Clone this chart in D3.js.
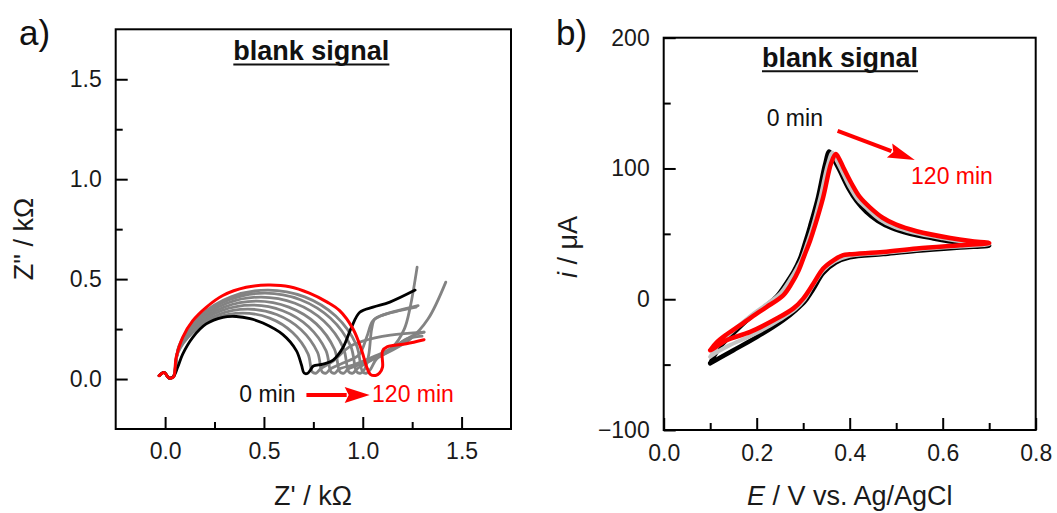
<!DOCTYPE html>
<html>
<head>
<meta charset="utf-8">
<script src="https://cdn.jsdelivr.net/npm/d3@7"></script>
<style>
  html, body { margin: 0; padding: 0; background: #fff; }
  svg { display: block; }
  text { font-family: "Liberation Sans", Arial, sans-serif; }
</style>
</head>
<body>
<script>
// ---------- Panel a: Nyquist plots (Z' vs Z'') ----------
const zTicksMajor = [0, 0.5, 1.0, 1.5];
const zTicksMinor = [0.25, 0.75, 1.25];

// 0 min (black)
const nyq0min = [
  [-0.03,0.017],[-0.005,0.033],[0.02,0.005],[0.042,0.012],[0.064,0.06],[0.089,0.125],
  [0.14,0.209],[0.208,0.276],[0.292,0.309],[0.36,0.313],[0.43,0.302],[0.495,0.28],
  [0.596,0.222],[0.664,0.142],[0.69,0.07],[0.703,0.03],[0.72,0.028],[0.735,0.045],
  [0.75,0.065],[0.8,0.075],[0.85,0.095],[0.9,0.158],[0.943,0.259],[0.985,0.334],
  [1.052,0.36],[1.137,0.385],[1.265,0.445]
];
// intermediate times (grey)
const nyqMid1 = [
  [-0.03,0.017],[-0.005,0.033],[0.02,0.005],[0.042,0.012],[0.062,0.126],[0.14,0.233],
  [0.256,0.305],[0.393,0.33],[0.529,0.305],[0.645,0.233],[0.723,0.126],[0.745,0.035],
  [0.765,0.03],[0.785,0.05],[0.85,0.09],[0.93,0.16],[1.0,0.19],[1.14,0.22],[1.31,0.235]
];
const nyqMid2 = [
  [-0.03,0.017],[-0.005,0.033],[0.02,0.005],[0.042,0.012],[0.064,0.134],[0.147,0.247],
  [0.271,0.323],[0.418,0.35],[0.564,0.323],[0.688,0.247],[0.771,0.134],[0.795,0.035],
  [0.815,0.03],[0.835,0.05],[0.9,0.08],[0.98,0.12],[1.02,0.21],[1.05,0.29],[1.09,0.315],[1.28,0.367]
];
const nyqMid3 = [
  [-0.03,0.017],[-0.005,0.033],[0.02,0.005],[0.042,0.012],[0.066,0.142],[0.154,0.262],
  [0.285,0.342],[0.44,0.37],[0.595,0.342],[0.726,0.262],[0.814,0.142],[0.84,0.035],
  [0.86,0.03],[0.88,0.05],[0.95,0.07],[1.05,0.11],[1.15,0.16],[1.21,0.25],[1.24,0.36],[1.275,0.56]
];
const nyqMid4 = [
  [-0.03,0.017],[-0.005,0.033],[0.02,0.005],[0.042,0.012],[0.068,0.149],[0.16,0.276],
  [0.299,0.36],[0.463,0.39],[0.626,0.36],[0.765,0.276],[0.857,0.149],[0.885,0.035],
  [0.905,0.03],[0.925,0.05],[0.98,0.07],[1.1,0.12],[1.24,0.2],[1.33,0.3],[1.42,0.485]
];
const nyqMid5 = [
  [-0.03,0.017],[-0.005,0.033],[0.02,0.005],[0.042,0.012],[0.069,0.157],[0.167,0.29],
  [0.313,0.379],[0.485,0.41],[0.657,0.379],[0.803,0.29],[0.901,0.157],[0.93,0.035],
  [0.95,0.03],[0.97,0.05],[1.02,0.08],[1.09,0.12],[1.19,0.18],[1.26,0.22],[1.31,0.235]
];
const nyqMid6 = [
  [-0.03,0.017],[-0.005,0.033],[0.02,0.005],[0.042,0.012],[0.071,0.165],[0.173,0.304],
  [0.325,0.397],[0.505,0.43],[0.685,0.397],[0.837,0.304],[0.939,0.165],[0.97,0.035],
  [0.99,0.03],[1.01,0.05],[1.03,0.12],[1.045,0.25],[1.06,0.3],[1.1,0.32],[1.27,0.36]
];
const nyqMid7 = [
  [-0.03,0.017],[-0.005,0.033],[0.02,0.005],[0.042,0.012],[0.072,0.17],[0.177,0.315],
  [0.334,0.411],[0.52,0.445],[0.706,0.411],[0.863,0.315],[0.968,0.17],[1.0,0.035],
  [1.02,0.03],[1.04,0.05],[1.07,0.1],[1.15,0.15],[1.22,0.2],[1.3,0.215]
];
// 120 min (red)
const nyq120min = [
  [-0.03,0.017],[-0.005,0.033],[0.02,0.005],[0.042,0.01],[0.056,0.108],[0.089,0.209],
  [0.14,0.292],[0.208,0.359],[0.292,0.418],[0.41,0.459],[0.52,0.47],[0.63,0.462],
  [0.73,0.43],[0.82,0.385],[0.883,0.342],[0.951,0.25],[0.995,0.142],[1.02,0.06],
  [1.04,0.022],[1.065,0.018],[1.085,0.03],[1.1,0.06],[1.1,0.14],[1.125,0.162],
  [1.22,0.177],[1.31,0.197]
];
const nyqGreys = [nyqMid1, nyqMid2, nyqMid3, nyqMid4, nyqMid5, nyqMid6, nyqMid7];

// ---------- Panel b: cyclic voltammograms ----------
const eTicksMajor = [0, 0.2, 0.4, 0.6, 0.8];
const eTicksMinor = [0.1, 0.3, 0.5, 0.7];
const iTicksMajor = [-100, 0, 100, 200];
const iTicksMinor = [-50, 50, 150];

// 0 min (black): anodic sweep then return sweep
const cv0min = [
  [0.100,-49],[0.120,-37],[0.150,-26],[0.186,-14],[0.220,-5],[0.243,2],[0.265,13],
  [0.280,21.5],[0.293,31],[0.304,43],[0.315,56],[0.332,78],[0.347,103],[0.356,113],
  [0.366,107],[0.379,98],[0.397,85],[0.415,75],[0.435,67],[0.460,60],[0.490,54.5],
  [0.530,50],[0.580,46.5],[0.637,43.2],[0.700,41],
  [0.637,39.5],[0.544,37],[0.472,34.5],[0.400,32],[0.370,28],[0.343,20],[0.322,8],
  [0.305,-1],[0.285,-8],[0.257,-16],[0.200,-29],[0.150,-39],[0.120,-45],[0.100,-49]
];
// intermediate (grey)
const cvMid = [
  [0.100,-44],[0.120,-34],[0.140,-27],[0.186,-13],[0.221,-4],[0.250,4],[0.272,15],
  [0.287,24],[0.297,31],[0.309,43],[0.320,55],[0.337,78],[0.353,103],[0.363,112],
  [0.372,106],[0.382,99],[0.400,86],[0.418,76],[0.440,68.5],[0.465,61],[0.495,55.5],
  [0.537,51],[0.600,46.6],[0.650,43.8],[0.700,42],
  [0.637,40.4],[0.544,37.9],[0.472,35.4],[0.400,33.2],[0.368,29],[0.343,22],[0.320,10],
  [0.303,0],[0.283,-7.5],[0.250,-15.5],[0.193,-27],[0.140,-35.5],[0.112,-41],[0.100,-44]
];
// 120 min (red)
const cv120min = [
  [0.100,-39],[0.114,-33],[0.135,-27],[0.164,-20],[0.200,-11],[0.221,-6],[0.257,3],
  [0.275,12],[0.290,22],[0.302,33],[0.315,45],[0.326,57],[0.343,78],[0.360,104],
  [0.370,111],[0.378,107],[0.386,101],[0.404,88.5],[0.422,78],[0.444,70],[0.470,62.5],
  [0.500,57],[0.544,52],[0.616,46.8],[0.660,44.5],[0.700,43],
  [0.637,41.3],[0.544,38.8],[0.472,36.2],[0.400,34.4],[0.386,33.7],[0.365,29.8],
  [0.343,23.5],[0.322,12],[0.300,0.5],[0.279,-7],[0.243,-14.8],[0.186,-25],
  [0.135,-31.4],[0.107,-37.7],[0.100,-39]
];

// ---------- drawing ----------
const W = 1057, H = 513;
const svg = d3.select("body").append("svg")
  .attr("width", W).attr("height", H)
  .attr("viewBox", `0 0 ${W} ${H}`);
svg.append("rect").attr("width", W).attr("height", H).attr("fill", "#fff");

const RED = "#ff0000";
const TICK_FONT = 23;

function framedAxes(g, x, y, opt) {
  const [x0, x1] = x.range();
  const [y0, y1] = y.range();
  // minor ticks
  g.append("g").attr("transform", `translate(0,${y0})`)
    .call(d3.axisBottom(x).tickValues(opt.xMinor).tickSize(-7).tickFormat(""))
    .call(s => s.select(".domain").remove());
  g.append("g").attr("transform", `translate(${x0},0)`)
    .call(d3.axisLeft(y).tickValues(opt.yMinor).tickSize(-7).tickFormat(""))
    .call(s => s.select(".domain").remove());
  // major ticks + labels
  const ax = g.append("g").attr("transform", `translate(0,${y0})`)
    .call(d3.axisBottom(x).tickValues(opt.xMajor).tickSize(-12).tickPadding(opt.xPad).tickFormat(opt.xFmt))
    .call(s => s.select(".domain").remove());
  const ay = g.append("g").attr("transform", `translate(${x0},0)`)
    .call(d3.axisLeft(y).tickValues(opt.yMajor).tickSize(-12).tickPadding(14).tickFormat(opt.yFmt))
    .call(s => s.select(".domain").remove());
  [ax, ay].forEach(a => {
    a.selectAll("text").attr("font-size", TICK_FONT).attr("fill", "#1a1a1a")
      .attr("font-family", '"Liberation Sans", Arial, sans-serif');
  });
  g.selectAll(".tick line").attr("stroke", "#000").attr("stroke-width", 2);
  // frame
  g.append("rect")
    .attr("x", x0).attr("y", y1).attr("width", x1 - x0).attr("height", y0 - y1)
    .attr("fill", "none").attr("stroke", "#000").attr("stroke-width", 2);
}

function arrow(g, p1, p2, headLen, headW, sw, color) {
  const dx = p2[0] - p1[0], dy = p2[1] - p1[1];
  const L = Math.hypot(dx, dy), ux = dx / L, uy = dy / L;
  const bx = p2[0] - ux * headLen, by = p2[1] - uy * headLen;
  g.append("line").attr("x1", p1[0]).attr("y1", p1[1]).attr("x2", bx + ux * 2).attr("y2", by + uy * 2)
    .attr("stroke", color).attr("stroke-width", sw);
  g.append("path")
    .attr("d", `M${p2[0]},${p2[1]}L${bx - uy * headW / 2},${by + ux * headW / 2}L${bx + ux * 4},${by + uy * 4}L${bx + uy * headW / 2},${by - ux * headW / 2}Z`)
    .attr("fill", color);
}

function title(g, cx, baseline, txt) {
  const t = g.append("text").attr("x", cx).attr("y", baseline)
    .attr("text-anchor", "middle").attr("font-weight", "bold").attr("font-size", 27)
    .attr("fill", "#111").text(txt);
  const w = t.node().getComputedTextLength();
  g.append("line").attr("x1", cx - w / 2).attr("x2", cx + w / 2)
    .attr("y1", baseline + 4.5).attr("y2", baseline + 4.5)
    .attr("stroke", "#111").attr("stroke-width", 2);
}

// ---- panel a ----
const xA = d3.scaleLinear().domain([-0.25, 1.75]).range([115.7, 511]);
const yA = d3.scaleLinear().domain([-0.25, 1.75]).range([429, 29.3]);
const gA = svg.append("g");
const lineA = d3.line().x(d => xA(d[0])).y(d => yA(d[1])).curve(d3.curveCatmullRom.alpha(0.5));

gA.selectAll("path.grey").data(nyqGreys).join("path")
  .attr("class", "grey").attr("d", lineA)
  .attr("fill", "none").attr("stroke", "#838383").attr("stroke-width", 2.8)
  .attr("stroke-linejoin", "round").attr("stroke-linecap", "round");
gA.append("path").attr("d", lineA(nyq0min)).attr("fill", "none")
  .attr("stroke", "#000").attr("stroke-width", 2.8).attr("stroke-linejoin", "round").attr("stroke-linecap", "round");
gA.append("path").attr("d", lineA(nyq120min)).attr("fill", "none")
  .attr("stroke", RED).attr("stroke-width", 3).attr("stroke-linejoin", "round").attr("stroke-linecap", "round");

framedAxes(gA, xA, yA, {
  xMajor: zTicksMajor, xMinor: zTicksMinor, yMajor: zTicksMajor, yMinor: zTicksMinor,
  xFmt: d3.format(".1f"), yFmt: d3.format(".1f"), xPad: 14
});

title(gA, (xA.range()[0] + xA.range()[1]) / 2 - 2, 60, "blank signal");

// 0 min -> 120 min arrow
gA.append("text").attr("x", xA(0.66)).attr("y", yA(-0.117)).attr("text-anchor", "end")
  .attr("font-size", 23).attr("fill", "#111").text("0 min");
arrow(gA, [xA(0.715), yA(-0.08)], [xA(1.035), yA(-0.08)], 25, 16, 4, RED);
gA.append("text").attr("x", xA(1.047)).attr("y", yA(-0.117))
  .attr("font-size", 23).attr("fill", RED).text("120 min");

gA.append("text").attr("x", 313).attr("y", 505).attr("text-anchor", "middle")
  .attr("font-size", 27).attr("fill", "#1a1a1a").text("Z' / kΩ");
gA.append("text").attr("transform", "translate(33,239) rotate(-90)").attr("text-anchor", "middle")
  .attr("font-size", 27).attr("fill", "#1a1a1a").text("Z\" / kΩ");
gA.append("text").attr("x", 19).attr("y", 45).attr("font-size", 35).attr("fill", "#111").text("a)");

// ---- panel b ----
const xB = d3.scaleLinear().domain([0, 0.8]).range([663.7, 1035.7]);
const yB = d3.scaleLinear().domain([-100, 200]).range([430, 37.7]);
const gB = svg.append("g");
const lineB = d3.line().x(d => xB(d[0])).y(d => yB(d[1])).curve(d3.curveCatmullRom.alpha(0.5));

gB.append("path").attr("d", lineB(cv0min)).attr("fill", "none")
  .attr("stroke", "#000").attr("stroke-width", 4.5).attr("stroke-linejoin", "round").attr("stroke-linecap", "round");
gB.append("path").attr("d", lineB(cvMid)).attr("fill", "none")
  .attr("stroke", "#c4c4c4").attr("stroke-width", 4).attr("stroke-linejoin", "round").attr("stroke-linecap", "round");
gB.append("path").attr("d", lineB(cv120min)).attr("fill", "none")
  .attr("stroke", RED).attr("stroke-width", 4.5).attr("stroke-linejoin", "round").attr("stroke-linecap", "round");

framedAxes(gB, xB, yB, {
  xMajor: eTicksMajor, xMinor: eTicksMinor, yMajor: iTicksMajor, yMinor: iTicksMinor,
  xFmt: d3.format(".1f"), yFmt: d3.format("d"), xPad: 15
});

title(gB, 840, 66.7, "blank signal");

gB.append("text").attr("x", xB(0.2215)).attr("y", yB(132.4))
  .attr("font-size", 23).attr("fill", "#111").text("0 min");
arrow(gB, [xB(0.374), yB(128.8)], [xB(0.54), yB(106.4)], 27, 15, 4, RED);
gB.append("text").attr("x", xB(0.532)).attr("y", yB(88))
  .attr("font-size", 23).attr("fill", RED).text("120 min");

const xt = gB.append("text").attr("x", 849.7).attr("y", 505).attr("text-anchor", "middle")
  .attr("font-size", 27).attr("fill", "#1a1a1a");
xt.append("tspan").attr("font-style", "italic").text("E");
xt.append("tspan").text(" / V vs. Ag/AgCl");
const yt = gB.append("text").attr("transform", "translate(577,247) rotate(-90)").attr("text-anchor", "middle")
  .attr("font-size", 27).attr("fill", "#1a1a1a");
yt.append("tspan").attr("font-style", "italic").text("i");
yt.append("tspan").text(" / μA");
gB.append("text").attr("x", 556).attr("y", 45).attr("font-size", 35).attr("fill", "#111").text("b)");
</script>
</body>
</html>
